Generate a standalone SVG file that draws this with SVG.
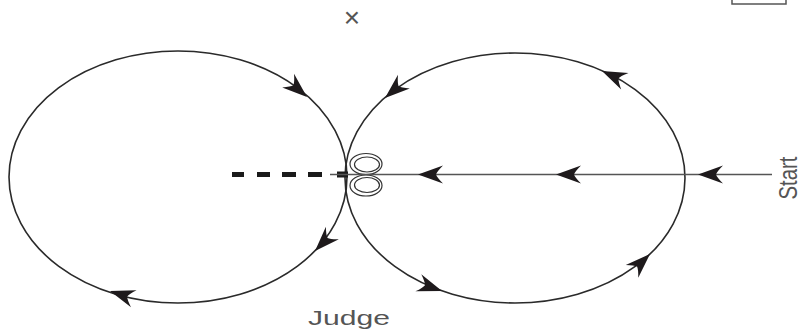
<svg xmlns="http://www.w3.org/2000/svg" xmlns:xlink="http://www.w3.org/1999/xlink" width="802" height="333" viewBox="0 0 802 333">
<style>
.orbit{fill:none;stroke:#2a2a2a;stroke-width:1.6}
.track{fill:none;stroke:#555;stroke-width:1.5}
.loop{fill:none;stroke:#333;stroke-width:1.2}
.ah{fill:#1e1a1c}
.lbl{font-family:"Liberation Sans",Arial,sans-serif;fill:#555}
</style>
<defs>
<path id="ah" d="M0,0 L-25,-9 Q-19,-3 -18,0 Q-19,3 -25,9 Z"/>
</defs>
<rect x="732" y="-10" width="54" height="14" fill="#fff" stroke="#555" stroke-width="1.5"/>
<text class="lbl" x="352" y="27" font-size="28" text-anchor="middle">×</text>
<g id="left-orbit">
<ellipse class="orbit" cx="178" cy="177" rx="169" ry="126"/>
</g>
<g id="right-orbit">
<ellipse class="orbit" cx="515" cy="178" rx="170" ry="125"/>
</g>
<g id="loops">
<ellipse class="loop" cx="366" cy="164" rx="16" ry="10.5"/>
<ellipse class="loop" cx="367" cy="164.5" rx="12.5" ry="7.5"/>
<ellipse class="loop" cx="366" cy="185.5" rx="16" ry="10.5"/>
<ellipse class="loop" cx="367" cy="185" rx="12.5" ry="7.5"/>
</g>
<g id="judge-marker">
<rect x="232" y="172" width="12" height="5" fill="#1a1a1a"/>
<rect x="257" y="172" width="13" height="5" fill="#1a1a1a"/>
<rect x="282" y="172" width="14" height="5" fill="#1a1a1a"/>
<rect x="308" y="172" width="14" height="5" fill="#1a1a1a"/>
<rect x="337" y="171.5" width="11" height="6" fill="#1a1a1a"/>
</g>
<g id="connectors">
<line class="track" x1="330" y1="174.5" x2="772" y2="174.5"/>
<use class="ah" xlink:href="#ah" transform="translate(418,174.5) rotate(180)"/>
<use class="ah" xlink:href="#ah" transform="translate(556,174.5) rotate(180)"/>
<use class="ah" xlink:href="#ah" transform="translate(698,174.5) rotate(180)"/>
<use class="ah" xlink:href="#ah" transform="translate(307,97) rotate(41)"/>
<use class="ah" xlink:href="#ah" transform="translate(315,251) rotate(134)"/>
<use class="ah" xlink:href="#ah" transform="translate(110,291) rotate(198)"/>
<use class="ah" xlink:href="#ah" transform="translate(385,98) rotate(139)"/>
<use class="ah" xlink:href="#ah" transform="translate(602,71) rotate(204)"/>
<use class="ah" xlink:href="#ah" transform="translate(650,254) rotate(-44)"/>
<use class="ah" xlink:href="#ah" transform="translate(442,291) rotate(19)"/>
</g>
<g id="start-label">
<text class="lbl" font-size="20" text-anchor="middle" textLength="43" lengthAdjust="spacingAndGlyphs" transform="translate(797,178) scale(1.3,1) rotate(-90)">Start</text>
</g>
<g id="judge-label">
<text class="lbl" x="349" y="325" font-size="19.5" text-anchor="middle" textLength="82" lengthAdjust="spacingAndGlyphs">Judge</text>
</g>
</svg>
